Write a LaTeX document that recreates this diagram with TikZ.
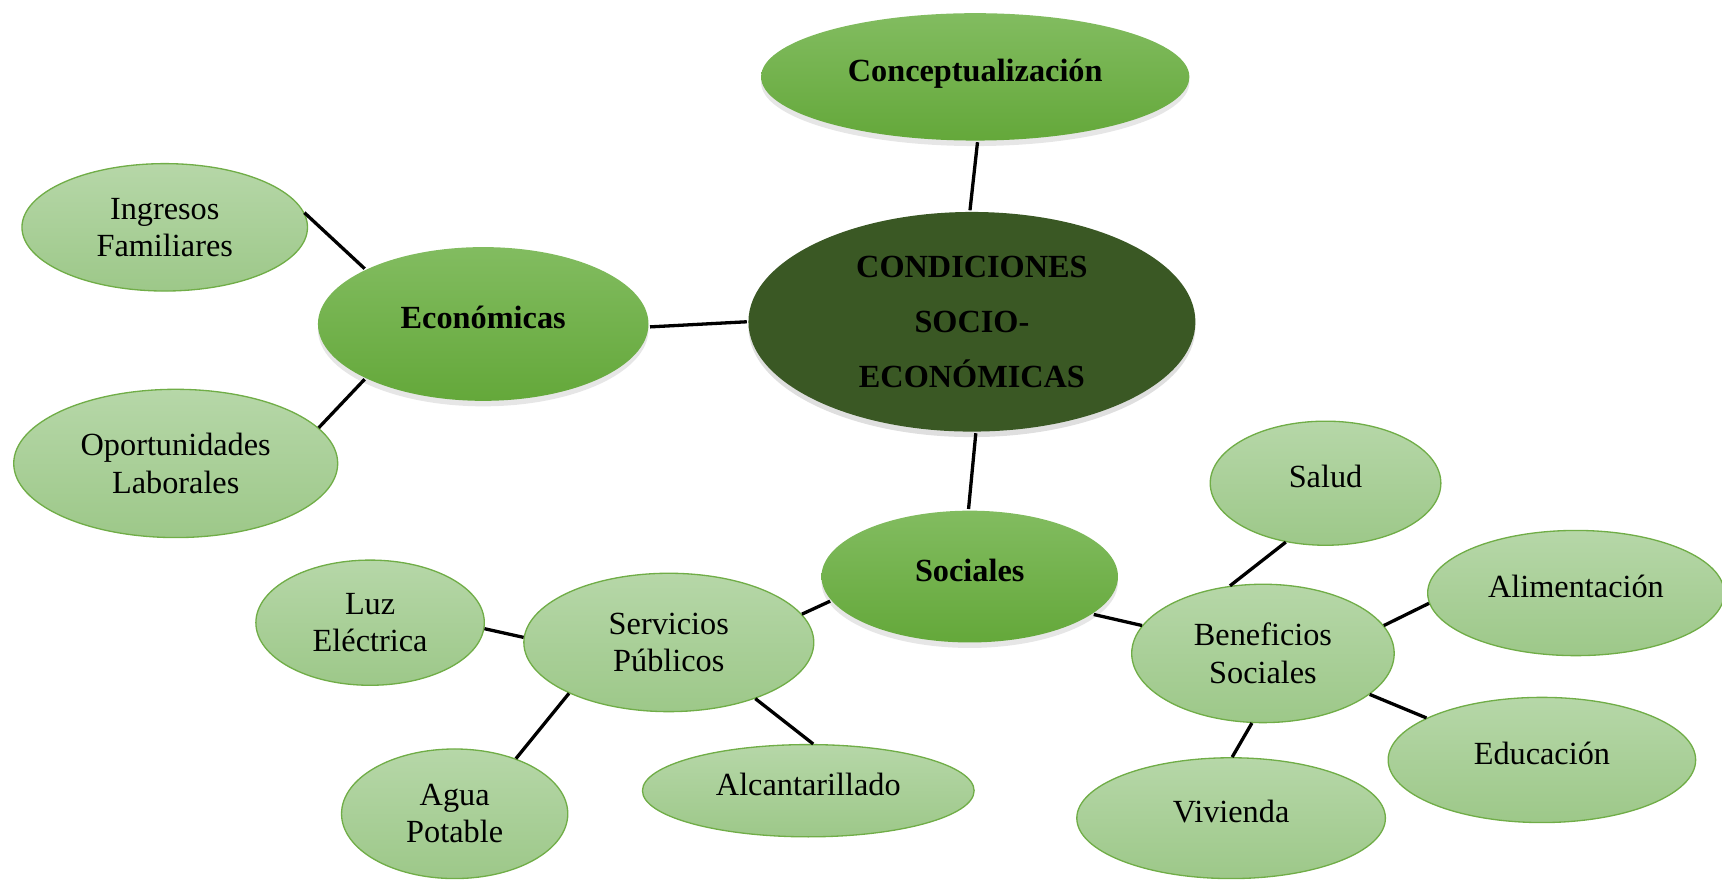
\documentclass[tikz,border=0pt]{standalone}
\usepackage{fontspec}
\setmainfont{Liberation Serif}
\usetikzlibrary{shapes.geometric,shadows}
\definecolor{hojaA}{RGB}{182,215,168}
\definecolor{hojaB}{RGB}{157,200,137}
\definecolor{borde}{RGB}{112,173,71}
\definecolor{ramaA}{RGB}{130,188,96}
\definecolor{ramaB}{RGB}{100,168,58}
\definecolor{centro}{RGB}{58,88,36}
\begin{document}
\begin{tikzpicture}[x=0.5pt,y=-0.5pt,line width=1.5pt,
every node/.style={ellipse,inner sep=0pt,align=center,font=\fontsize{14.7}{17}\selectfont},
hoja/.style={top color=hojaA,bottom color=hojaB,draw=borde,line width=0.6pt},
rama/.style={top color=ramaA,bottom color=ramaB,font=\fontsize{14.7}{17}\selectfont\bfseries,
drop shadow={opacity=0.2,shadow xshift=0pt,shadow yshift=-2.5pt}},
lift/.style={text depth=6pt}]
\useasboundingbox (0,0) rectangle (1568,801);
\node[rama,lift,minimum width=195pt,minimum height=58pt](concepto) at (888,70){Conceptualizaci\'on};
\node[fill=centro,drop shadow={opacity=0.25,shadow xshift=0pt,shadow yshift=-2.5pt},
font=\fontsize{14.7}{25}\selectfont\bfseries,minimum width=203.5pt,minimum height=100pt](condiciones) at (885,293)
{CONDICIONES\\SOCIO-\\ECON\'OMICAS};
\node[rama,lift,minimum width=150.5pt,minimum height=70pt](economicas) at (440,295){Econ\'omicas};
\node[hoja,minimum width=130pt,minimum height=58pt](ingresos) at (150,207){Ingresos\\Familiares};
\node[hoja,minimum width=147.5pt,minimum height=67.5pt](oportunidades) at (160,422){Oportunidades\\Laborales};
\node[rama,lift,minimum width=135pt,minimum height=60pt](sociales) at (883,525){Sociales};
\node[hoja,minimum width=132pt,minimum height=63pt](servicios) at (609,585){Servicios\\P\'ublicos};
\node[hoja,minimum width=104pt,minimum height=57pt](luz) at (337,567){Luz\\El\'ectrica};
\node[hoja,minimum width=103pt,minimum height=59pt](agua) at (414,741){Agua\\Potable};
\node[hoja,lift,minimum width=151pt,minimum height=42pt](alcantarillado) at (736,720){Alcantarillado};
\node[hoja,minimum width=119.5pt,minimum height=63pt](beneficios) at (1150,595){Beneficios\\Sociales};
\node[hoja,lift,minimum width=105pt,minimum height=56.5pt](salud) at (1207,440){Salud};
\node[hoja,lift,minimum width=135pt,minimum height=57pt](alimentacion) at (1435,540){Alimentaci\'on};
\node[hoja,lift,minimum width=140pt,minimum height=57pt](educacion) at (1404,692){Educaci\'on};
\node[hoja,lift,minimum width=140.5pt,minimum height=55pt](vivienda) at (1121,745){Vivienda};
\draw(concepto.-88)--(condiciones.91)(condiciones.180)--(economicas.-1)
(ingresos.6)--(economicas.155)(oportunidades.14)--(economicas.205)
(condiciones.-88)--(sociales.91)(sociales.190)--(servicios.12)
(luz.-3)--(servicios.178)(servicios.207)--(agua.42)(servicios.-33)--(alcantarillado.84)
(sociales.-17)--(beneficios.167)(beneficios.116)--(salud.236)
(beneficios.13)--(alimentacion.184)(beneficios.-21)--(educacion.160)
(beneficios.261)--(vivienda.89);
\end{tikzpicture}
\end{document}
